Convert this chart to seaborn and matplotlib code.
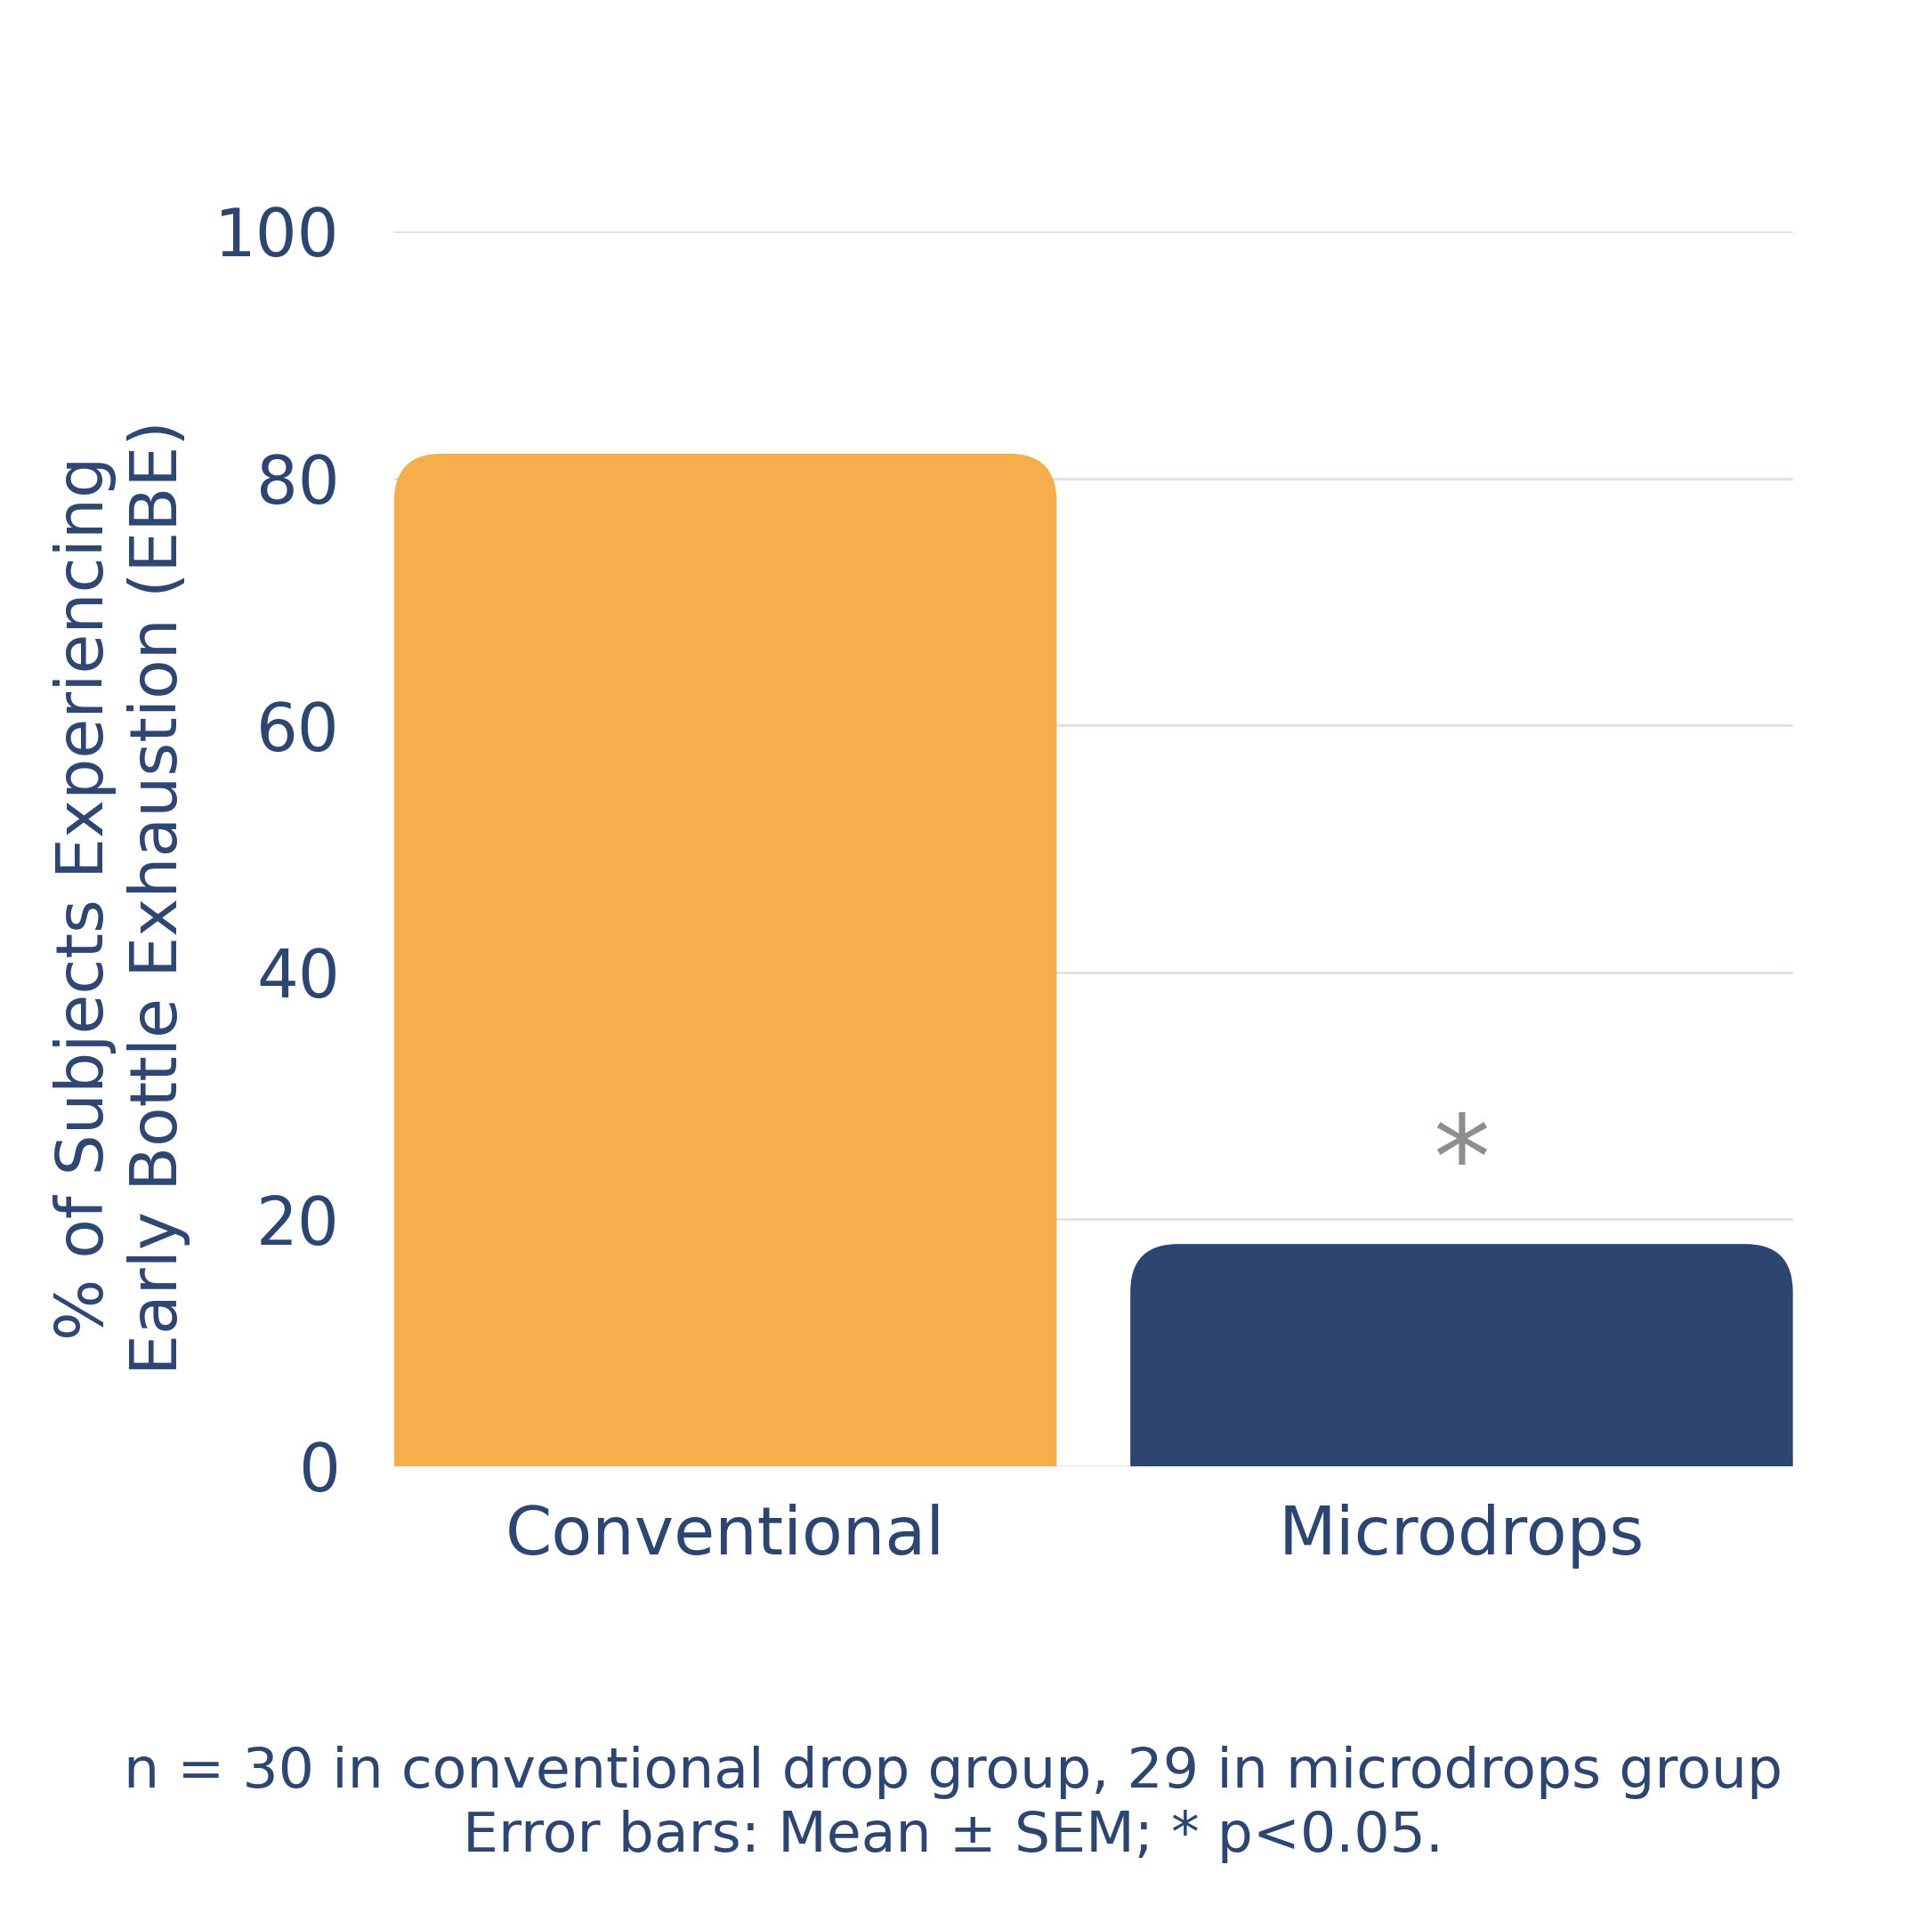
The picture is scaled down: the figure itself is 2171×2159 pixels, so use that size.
import numpy as np
import pandas as pd
import seaborn as sns
import matplotlib.pyplot as plt
from matplotlib.patches import FancyBboxPatch

categories = ['Conventional', 'Microdrops']
pct_ebe = [82, 18]
bar_colors = ['#f6ad4c', '#2d4571']
star_value = 26.5
ylabel = '% of Subjects Experiencing\nEarly Bottle Exhaustion (EBE)'
footnote = 'n = 30 in conventional drop group, 29 in microdrops group\nError bars: Mean ± SEM; * p<0.05.'

navy = '#2d4571'
grid_col = '#dde3ee'

sns.set_theme(style='white')
plt.rcParams['font.family'] = ['DejaVu Sans']

df = pd.DataFrame({'group': categories, 'pct': pct_ebe})

fig = plt.figure(figsize=(21.71, 21.59), dpi=100)
ax = fig.add_axes([0.204, 0.2367, 0.724, 0.6429])

sns.barplot(data=df, x='group', y='pct', hue='group', palette=bar_colors,
            saturation=1, width=0.9, legend=False, ax=ax, zorder=3)

ax.set_xlim(-0.45, 1.45)
ax.set_ylim(0, 100)

# round the top corners of the bars
rx, ry = 0.065, 3.9
for bar in list(ax.patches):
    x, w, h = bar.get_x(), bar.get_width(), bar.get_height()
    fc = bar.get_facecolor()
    bar.remove()
    rb = FancyBboxPatch((x, -ry * 1.5), w, h + ry * 1.5,
                        boxstyle=f'round,pad=0,rounding_size={rx}',
                        mutation_aspect=ry / rx, facecolor=fc,
                        edgecolor='none', zorder=3)
    ax.add_patch(rb)

ax.set_yticks(np.arange(0, 101, 20))
ax.yaxis.grid(True, color=grid_col, linewidth=2.2, zorder=0)
ax.xaxis.grid(False)
for s in ax.spines.values():
    s.set_visible(False)
ax.tick_params(axis='both', length=0)
ax.tick_params(axis='y', pad=44, labelsize=53, labelcolor=navy)
ax.tick_params(axis='x', pad=30, labelsize=54, labelcolor=navy)
ax.set_xlabel('')
ax.set_ylabel('')

ax.annotate('*', (1, star_value), xytext=(0, -22), textcoords='offset points',
            ha='center', va='center', fontsize=92, color='#8e8e8e', zorder=4)

fig.text(0.063, 0.5327, ylabel, rotation=90, ha='center', va='center',
         multialignment='center', fontsize=52.5, color=navy, linespacing=1.22)

fig.text(0.4933, 0.0607, footnote, ha='center', va='center',
         multialignment='center', fontsize=45.5, color=navy, linespacing=1.25)

fig.savefig('out.png', dpi=100, facecolor='white')
